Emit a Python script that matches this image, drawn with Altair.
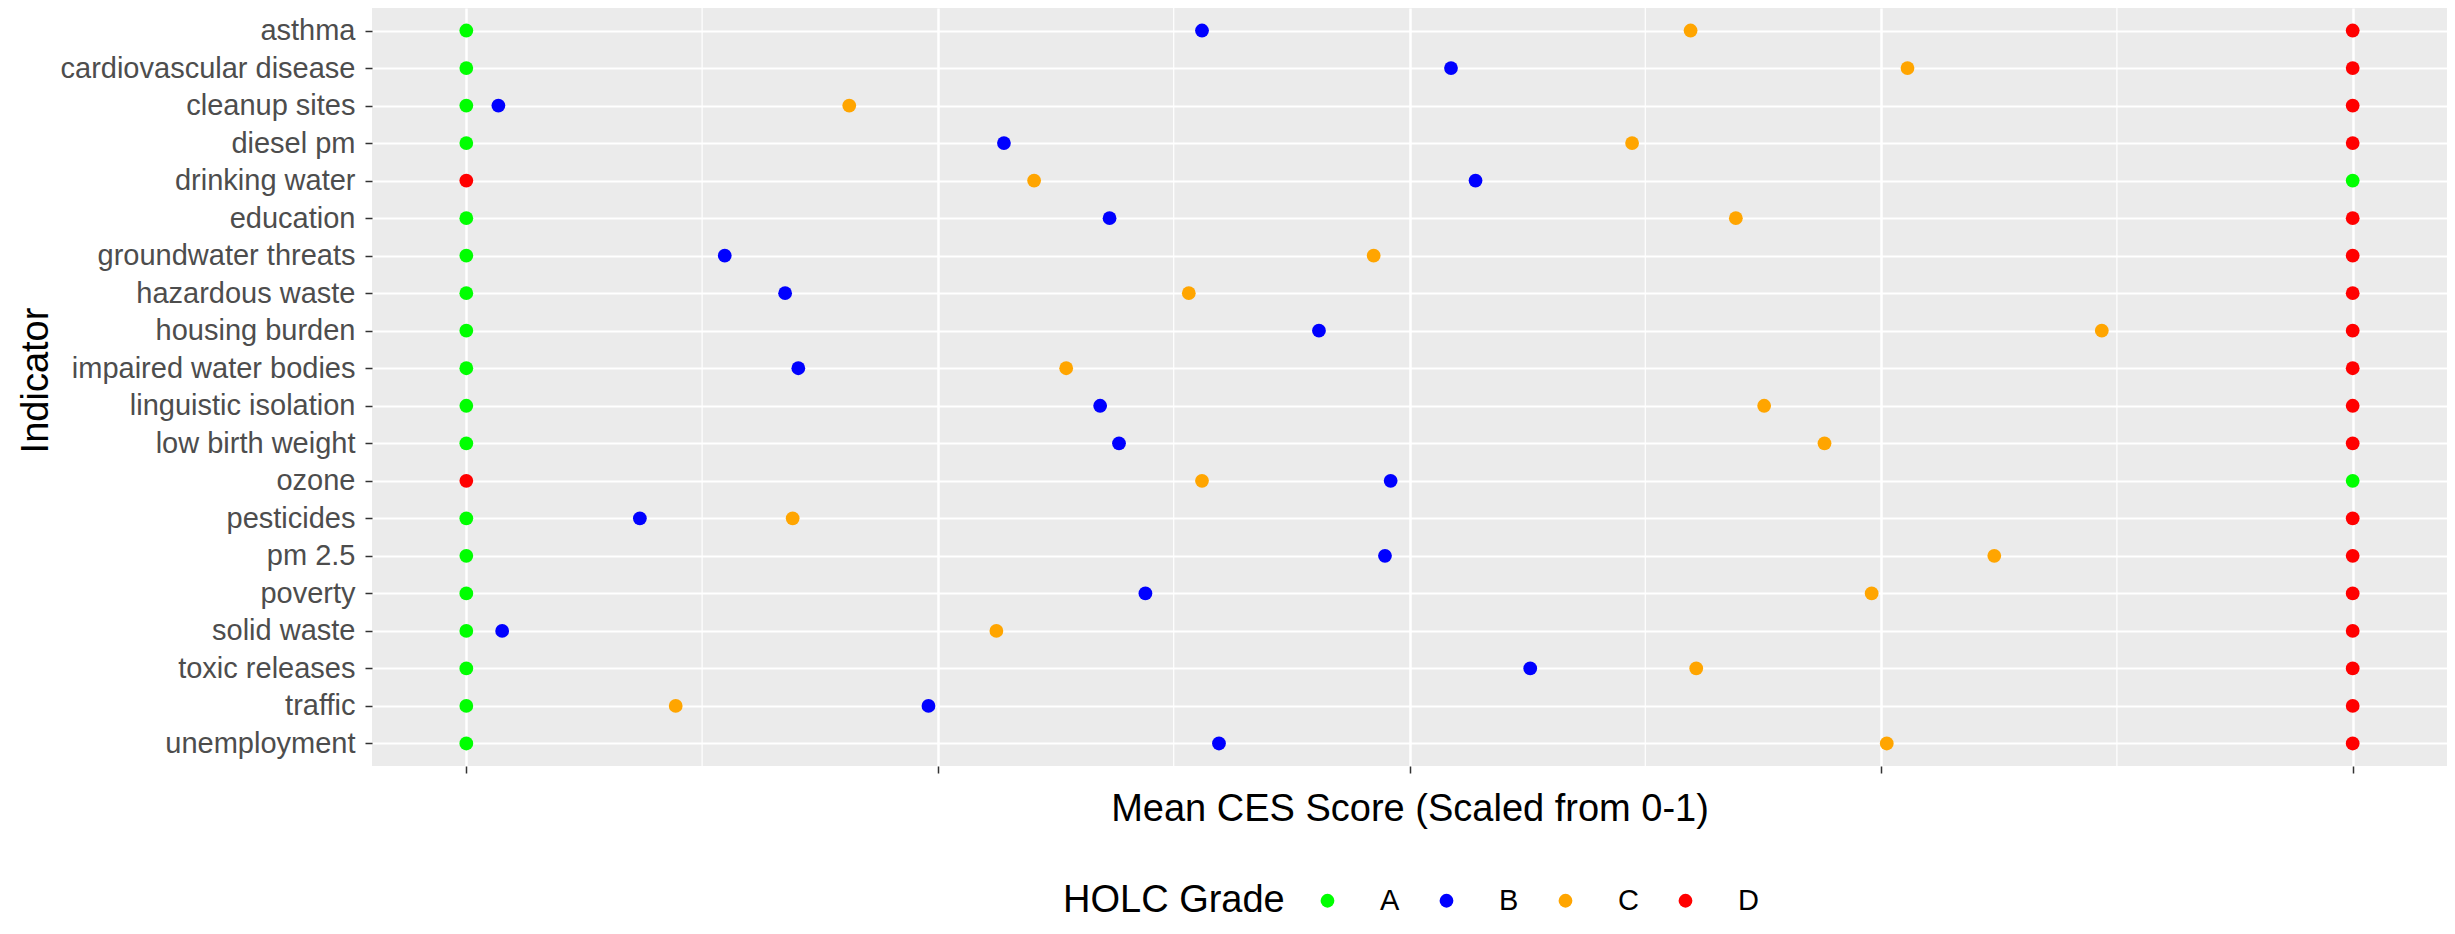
import altair as alt
import pandas as pd

indicators = ["asthma", "cardiovascular disease", "cleanup sites", "diesel pm",
              "drinking water", "education", "groundwater threats", "hazardous waste",
              "housing burden", "impaired water bodies", "linguistic isolation",
              "low birth weight", "ozone", "pesticides", "pm 2.5", "poverty",
              "solid waste", "toxic releases", "traffic", "unemployment"]

grade_a = [0, 0, 0, 0, 1, 0, 0, 0, 0, 0, 0, 0, 1, 0, 0, 0, 0, 0, 0, 0]
grade_b = [0.390, 0.522, 0.017, 0.285, 0.535, 0.341, 0.137, 0.169, 0.452, 0.176,
           0.336, 0.346, 0.490, 0.092, 0.487, 0.360, 0.019, 0.564, 0.245, 0.399]
grade_c = [0.649, 0.764, 0.203, 0.618, 0.301, 0.673, 0.481, 0.383, 0.867, 0.318,
           0.688, 0.720, 0.390, 0.173, 0.810, 0.745, 0.281, 0.652, 0.111, 0.753]
grade_d = [1, 1, 1, 1, 0, 1, 1, 1, 1, 1, 1, 1, 0, 1, 1, 1, 1, 1, 1, 1]

grades = ["A", "B", "C", "D"]
grade_colors = ["#00FF00", "#0000FF", "#FFA500", "#FF0000"]

major_ticks = [0, 0.25, 0.5, 0.75, 1]
minor_ticks = [0.125, 0.375, 0.625, 0.875]

rows = []
for g, vals in zip(grades, [grade_a, grade_b, grade_c, grade_d]):
    for ind, v in zip(indicators, vals):
        rows.append({"indicator": ind, "grade": g, "score": v})
df = pd.DataFrame(rows)
minor_df = pd.DataFrame({"score": minor_ticks})

FONT = "Liberation Sans"

x_scale = alt.Scale(domain=[-0.05, 1.05], nice=False, zero=False)
x_axis = alt.Axis(values=major_ticks, labels=False, ticks=True, tickSize=7,
                  tickWidth=1.5, tickColor="#333333", grid=True, gridColor="white",
                  gridWidth=2.5, domain=False, title="Mean CES Score (Scaled from 0-1)",
                  titleFontSize=38, titleFont=FONT, titleFontWeight="normal",
                  titleColor="black", titlePadding=17)

minor = alt.Chart(minor_df).mark_rule(color="white", strokeWidth=1.2).encode(
    x=alt.X("score:Q", scale=x_scale, axis=x_axis)
)

points = alt.Chart(df).mark_circle(size=190, opacity=1).encode(
    x=alt.X("score:Q", scale=x_scale, axis=x_axis),
    y=alt.Y("indicator:N", sort=indicators,
            scale=alt.Scale(type="point", padding=0.6),
            axis=alt.Axis(grid=True, gridColor="white", gridWidth=2, domain=False,
                          tickColor="#333333", tickSize=7, tickWidth=1.5,
                          labelFontSize=29, labelColor="#4D4D4D", labelFont=FONT,
                          labelPadding=10, labelLimit=0, title="Indicator",
                          titleFontSize=38, titleFont=FONT, titleFontWeight="normal",
                          titleColor="black", titleAngle=270, titleX=-325, titleY=372,
                          titleAlign="center", titleBaseline="alphabetic")),
    color=alt.Color("grade:N",
                    scale=alt.Scale(domain=grades, range=grade_colors),
                    legend=alt.Legend(orient="none", legendX=691, legendY=878,
                                      direction="horizontal", titleOrient="left",
                                      title="HOLC Grade", titleFontSize=38,
                                      titleFont=FONT, titleFontWeight="normal",
                                      titleColor="black", titleLimit=0,
                                      labelFontSize=29, labelFont=FONT,
                                      labelColor="black", symbolType="circle",
                                      symbolSize=190, symbolStrokeWidth=0,
                                      symbolOpacity=1, labelOffset=38,
                                      columnPadding=32, titlePadding=28,
                                      titleBaseline="middle")),
)

chart = alt.layer(minor, points).properties(
    width=2075, height=758,
    autosize=alt.AutoSizeParams(type="none"),
    padding={"left": 364, "top": 0, "right": 0, "bottom": 160},
).configure(font=FONT).configure_view(fill="#EBEBEB", strokeWidth=0)

chart.save("out.html", embed_options={"renderer": "svg", "actions": False})
